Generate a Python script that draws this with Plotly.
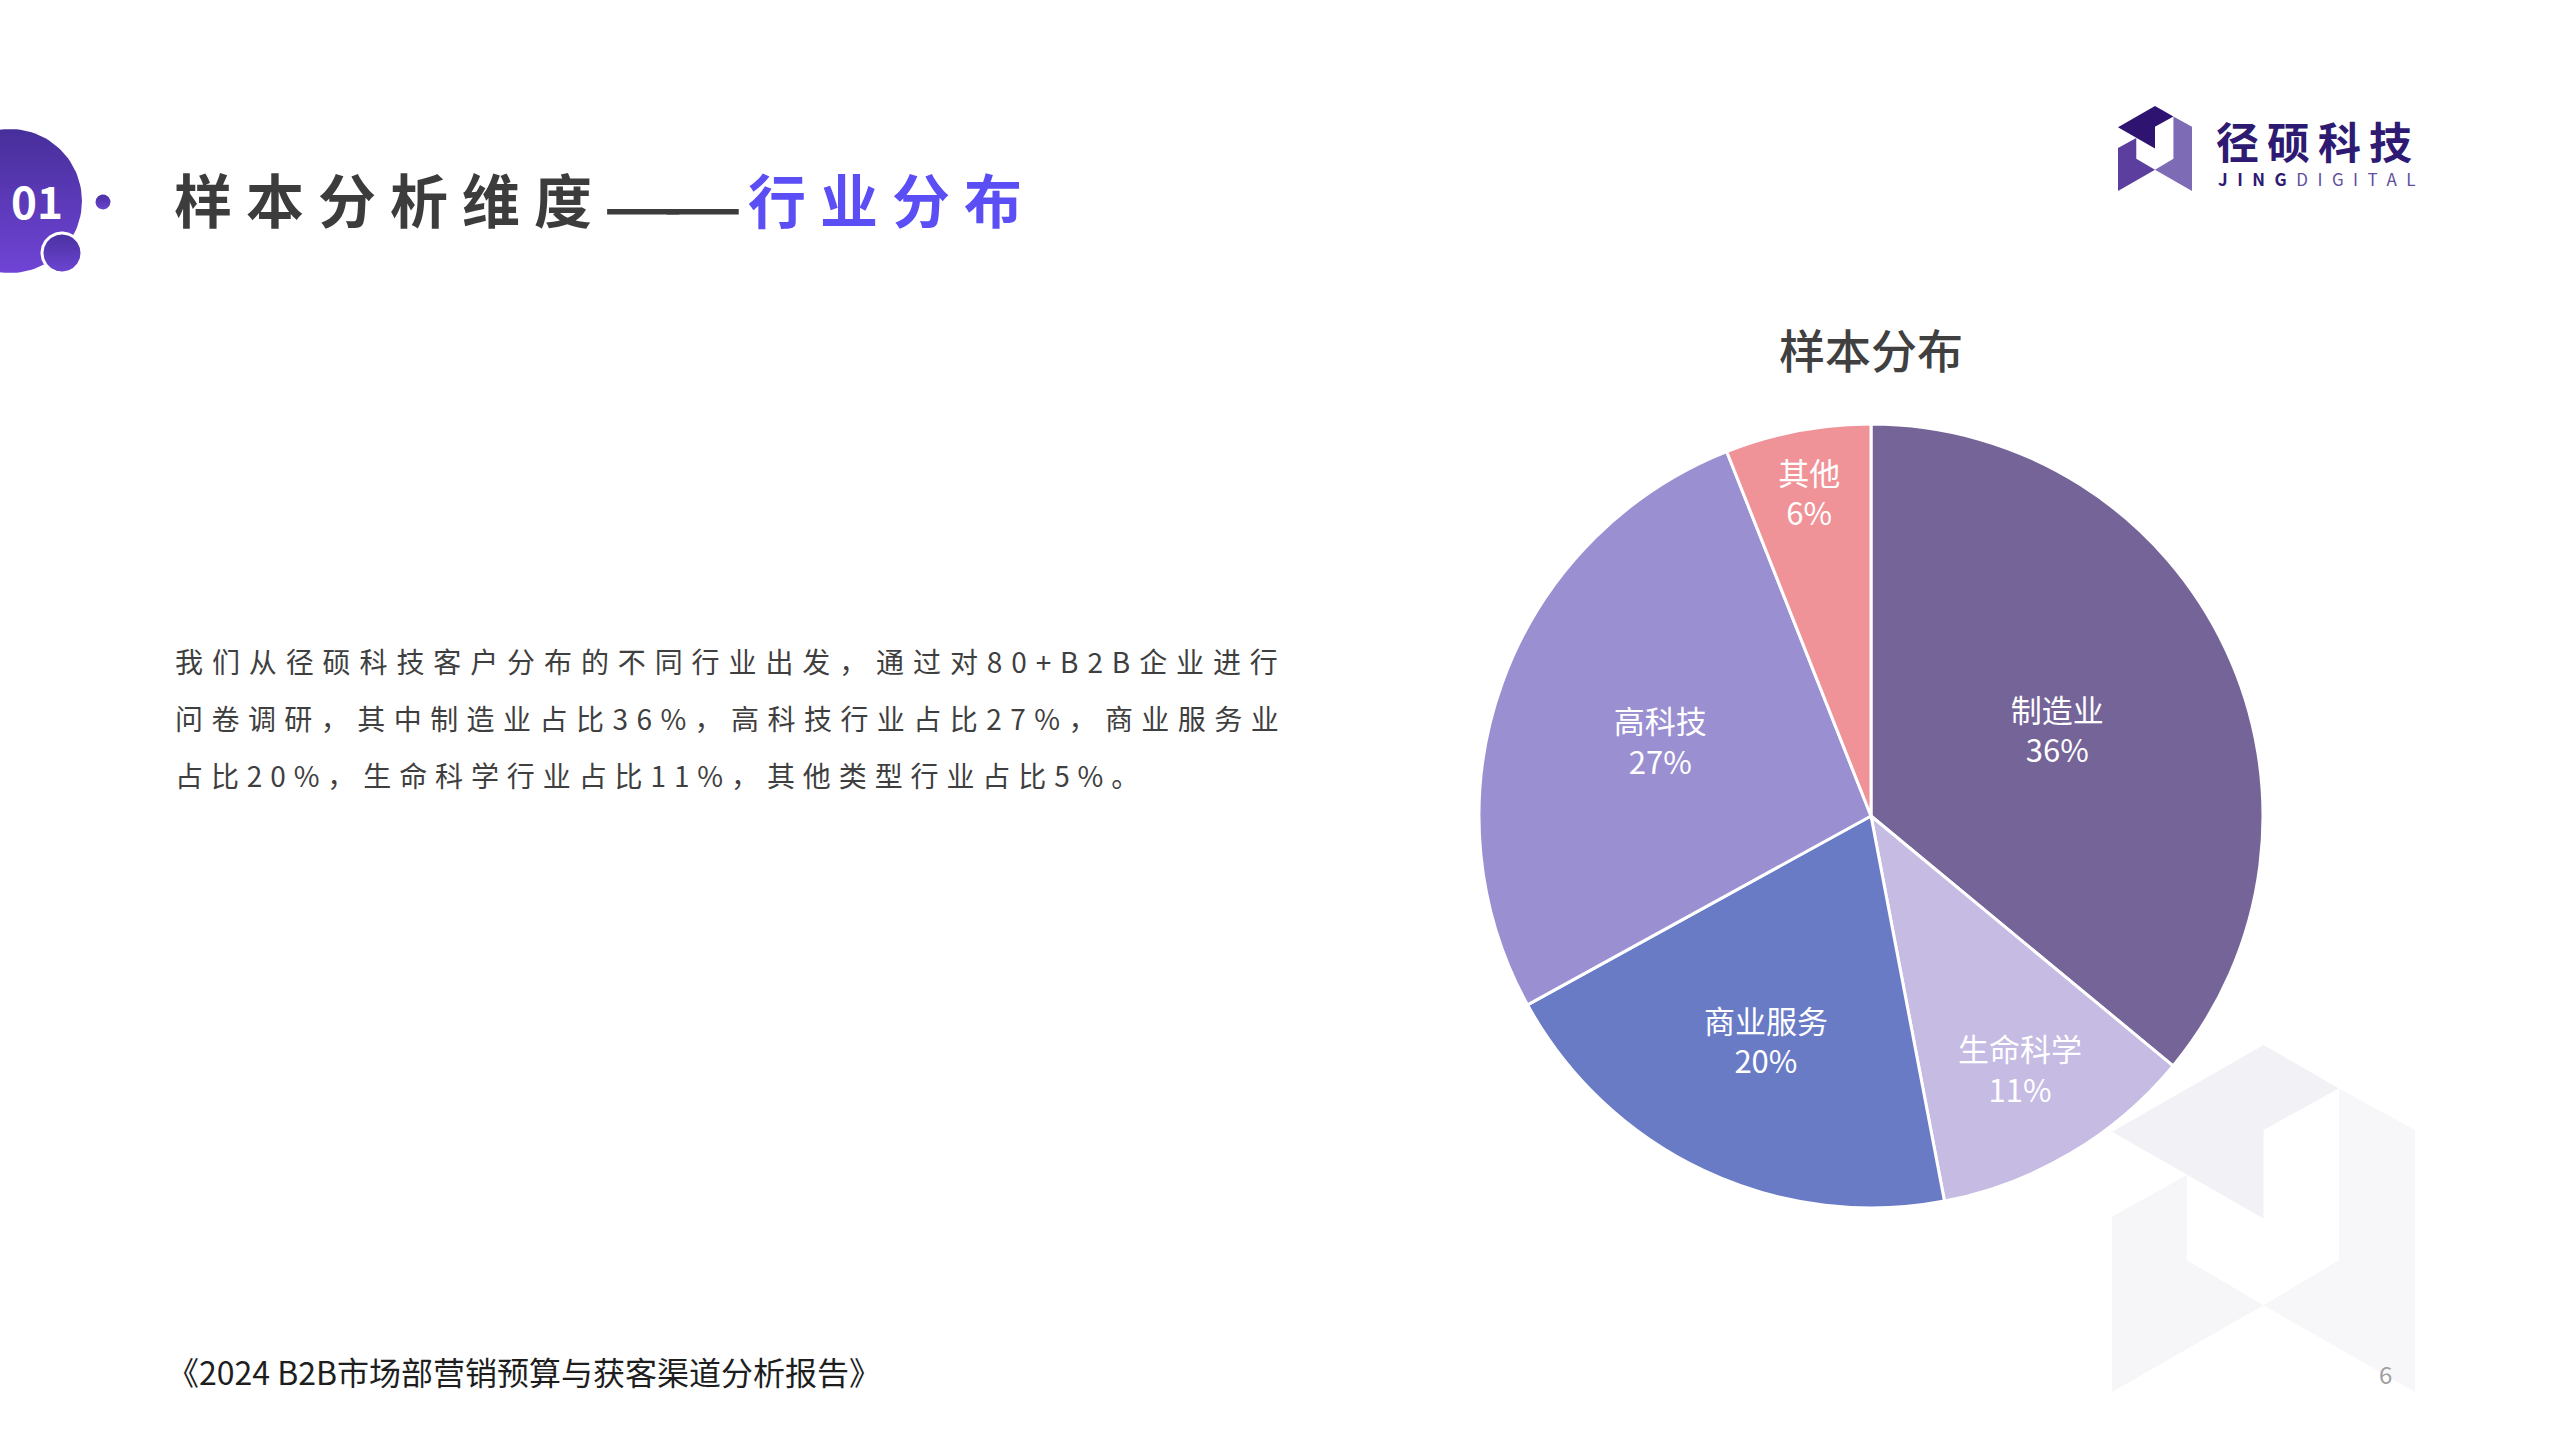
import numpy as np
import plotly.graph_objects as go

# ---------------- data ----------------
categories = ["制造业", "生命科学", "商业服务", "高科技", "其他"]
shares = [36, 11, 20, 27, 6]
slice_colors = ["#756498", "#c5bbe3", "#6a7bc6", "#9a8fd1", "#f09398"]

chart_title = "样本分布"
page_title_main = "样本分析维度"
page_title_dash = "——"
page_title_hl = "行业分布"
section_no = "01"
paragraph_lines = [
    "我们从径硕科技客户分布的不同行业出发，通过对80+B2B企业进行",
    "问卷调研，其中制造业占比36%，高科技行业占比27%，商业服务业",
    "占比20%，生命科学行业占比11%，其他类型行业占比5%。",
]
footer_text = "《2024 B2B市场部营销预算与获客渠道分析报告》"
page_no = "6"
logo_cn = "径硕科技"
logo_en_bold = "JING"
logo_en_light = "DIGITAL"

# ---------------- layout constants ----------------
W, H = 2560, 1440
FONT = "Noto Sans CJK SC, Noto Sans, sans-serif"
PIE_CX, PIE_CY, PIE_R = 1871, 816, 392
PARA_SPACING = [8.9, 8.45, 7.9]

fig = go.Figure()

# badge circles (decoration) with vertical gradient
def circle_trace(cx, cy, r, c_top, c_bot, line_color=None, line_w=0):
    t = np.linspace(0, 2 * np.pi, 120)
    return go.Scatter(
        x=cx + r * np.cos(t), y=cy + r * np.sin(t),
        mode="lines", fill="toself",
        fillgradient=dict(type="vertical", colorscale=[[0, c_top], [1, c_bot]]),
        line=dict(width=line_w, color=line_color or "rgba(0,0,0,0)"),
        hoverinfo="skip", showlegend=False, xaxis="x", yaxis="y",
    )

fig.add_trace(circle_trace(10, 201, 72, "#7044d6", "#472f9a"))
fig.add_trace(circle_trace(62, 253, 20, "#6c45d2", "#4a31a0", "white", 3))
fig.add_trace(circle_trace(103, 202, 7.5, "#6a44d0", "#4a31a0"))

# pie
fig.add_trace(go.Pie(
    labels=categories, values=shares,
    sort=False, direction="clockwise", rotation=0,
    marker=dict(colors=slice_colors, line=dict(color="white", width=3)),
    texttemplate="%{label}<br>%{value}%",
    textposition="inside", insidetextorientation="horizontal",
    textfont=dict(family=FONT, size=31, color="white"),
    hoverinfo="skip", showlegend=False,
    domain=dict(x=[(PIE_CX - PIE_R) / W, (PIE_CX + PIE_R) / W],
                y=[(H - PIE_CY - PIE_R) / H, (H - PIE_CY + PIE_R) / H]),
))

# logo polygons (normalized)
top_piece = [(0, 0.25), (0.5, 0), (0.749, 0.125), (0.5, 0.245), (0.5, 0.5)]
right_piece = [(0.749, 0.125), (1, 0.245), (1, 1), (0.5, 0.75), (0.749, 0.62)]
left_piece = [(0, 0.495), (0.247, 0.375), (0.247, 0.62), (0.5, 0.75), (0, 1)]

def poly_path(pts, x0, y0, w, h):
    s = "M " + " L ".join(f"{x0 + px * w:.2f},{y0 + py * h:.2f}" for px, py in pts)
    return s + " Z"

shapes = []
for pts, col_logo, col_wm in [(top_piece, "#2e1470", "#f2f2f6"),
                              (left_piece, "#5b3e9e", "#f6f6f9"),
                              (right_piece, "#7d6bb6", "#f7f7fa")]:
    shapes.append(dict(type="path", xref="x", yref="y", path=poly_path(pts, 2118, 106, 74, 85),
                       fillcolor=col_logo, line=dict(width=0), layer="above"))
    shapes.append(dict(type="path", xref="x", yref="y", path=poly_path(pts, 2112, 1045, 303, 347),
                       fillcolor=col_wm, line=dict(width=0), layer="below"))

annotations = []
# section number
annotations.append(dict(x=37, y=200, xref="x", yref="y", text=section_no, showarrow=False,
                        font=dict(family=FONT, size=44, color="white", weight="bold"),
                        xanchor="center", yanchor="middle"))
# page title (three pieces)
annotations.append(dict(
    x=172, y=198, xref="x", yref="y", showarrow=False, xanchor="left", yanchor="middle",
    text=f'<span style="letter-spacing:14px">{page_title_main}</span>',
    font=dict(family=FONT, size=58, color="#3c3c3c", weight="bold")))
annotations.append(dict(
    x=673, y=198, xref="x", yref="y", showarrow=False, xanchor="center", yanchor="middle",
    text=f'<span style="letter-spacing:-21px">{page_title_dash[0]}</span>{page_title_dash[1:]}',
    font=dict(family=FONT, size=90, color="#3c3c3c")))
annotations.append(dict(
    x=746, y=198, xref="x", yref="y", showarrow=False, xanchor="left", yanchor="middle",
    text=f'<span style="letter-spacing:14px">{page_title_hl}</span>',
    font=dict(family=FONT, size=58, color="#5b4ef5", weight="bold")))
# paragraph
for i, line in enumerate(paragraph_lines):
    annotations.append(dict(
        x=173, y=661 + i * 57, xref="x", yref="y", showarrow=False, xanchor="left", yanchor="middle",
        text=f'<span style="letter-spacing:{PARA_SPACING[i]}px">{line}</span>',
        font=dict(family=FONT, size=28, color="#3f3f3f")))
# chart title
annotations.append(dict(x=PIE_CX, y=348, xref="x", yref="y", text=chart_title, showarrow=False,
                        xanchor="center", yanchor="middle",
                        font=dict(family=FONT, size=46, color="#404040", weight=500)))
# footer
annotations.append(dict(x=165, y=1371, xref="x", yref="y", text=footer_text, showarrow=False,
                        xanchor="left", yanchor="middle",
                        font=dict(family=FONT, size=32, color="#1e1e1e")))
# page number
annotations.append(dict(x=2385, y=1373, xref="x", yref="y", text=page_no, showarrow=False,
                        xanchor="center", yanchor="middle",
                        font=dict(family=FONT, size=24, color="#a0a0a0")))
# logo text
annotations.append(dict(x=2214, y=140, xref="x", yref="y", showarrow=False, xanchor="left", yanchor="middle",
                        text=f'<span style="letter-spacing:8px">{logo_cn}</span>',
                        font=dict(family=FONT, size=43, color="#2e1a72", weight="bold")))
annotations.append(dict(x=2216, y=178, xref="x", yref="y", showarrow=False, xanchor="left", yanchor="middle",
                        text=(f'<span style="letter-spacing:9.5px"><b>{logo_en_bold}</b></span>'
                              f'<span style="letter-spacing:9.5px;color:#5e4e9c">{logo_en_light}</span>'),
                        font=dict(family=FONT, size=17, color="#2e1a72")))

fig.update_layout(
    width=W, height=H,
    margin=dict(l=0, r=0, t=0, b=0),
    paper_bgcolor="white", plot_bgcolor="rgba(0,0,0,0)",
    xaxis=dict(range=[0, W], visible=False, fixedrange=True, domain=[0, 1]),
    yaxis=dict(range=[H, 0], visible=False, fixedrange=True, domain=[0, 1]),
    shapes=shapes, annotations=annotations,
    showlegend=False,
)

fig.write_html("out.html", config={"displayModeBar": False},
               post_script="document.body.style.margin='0';")
